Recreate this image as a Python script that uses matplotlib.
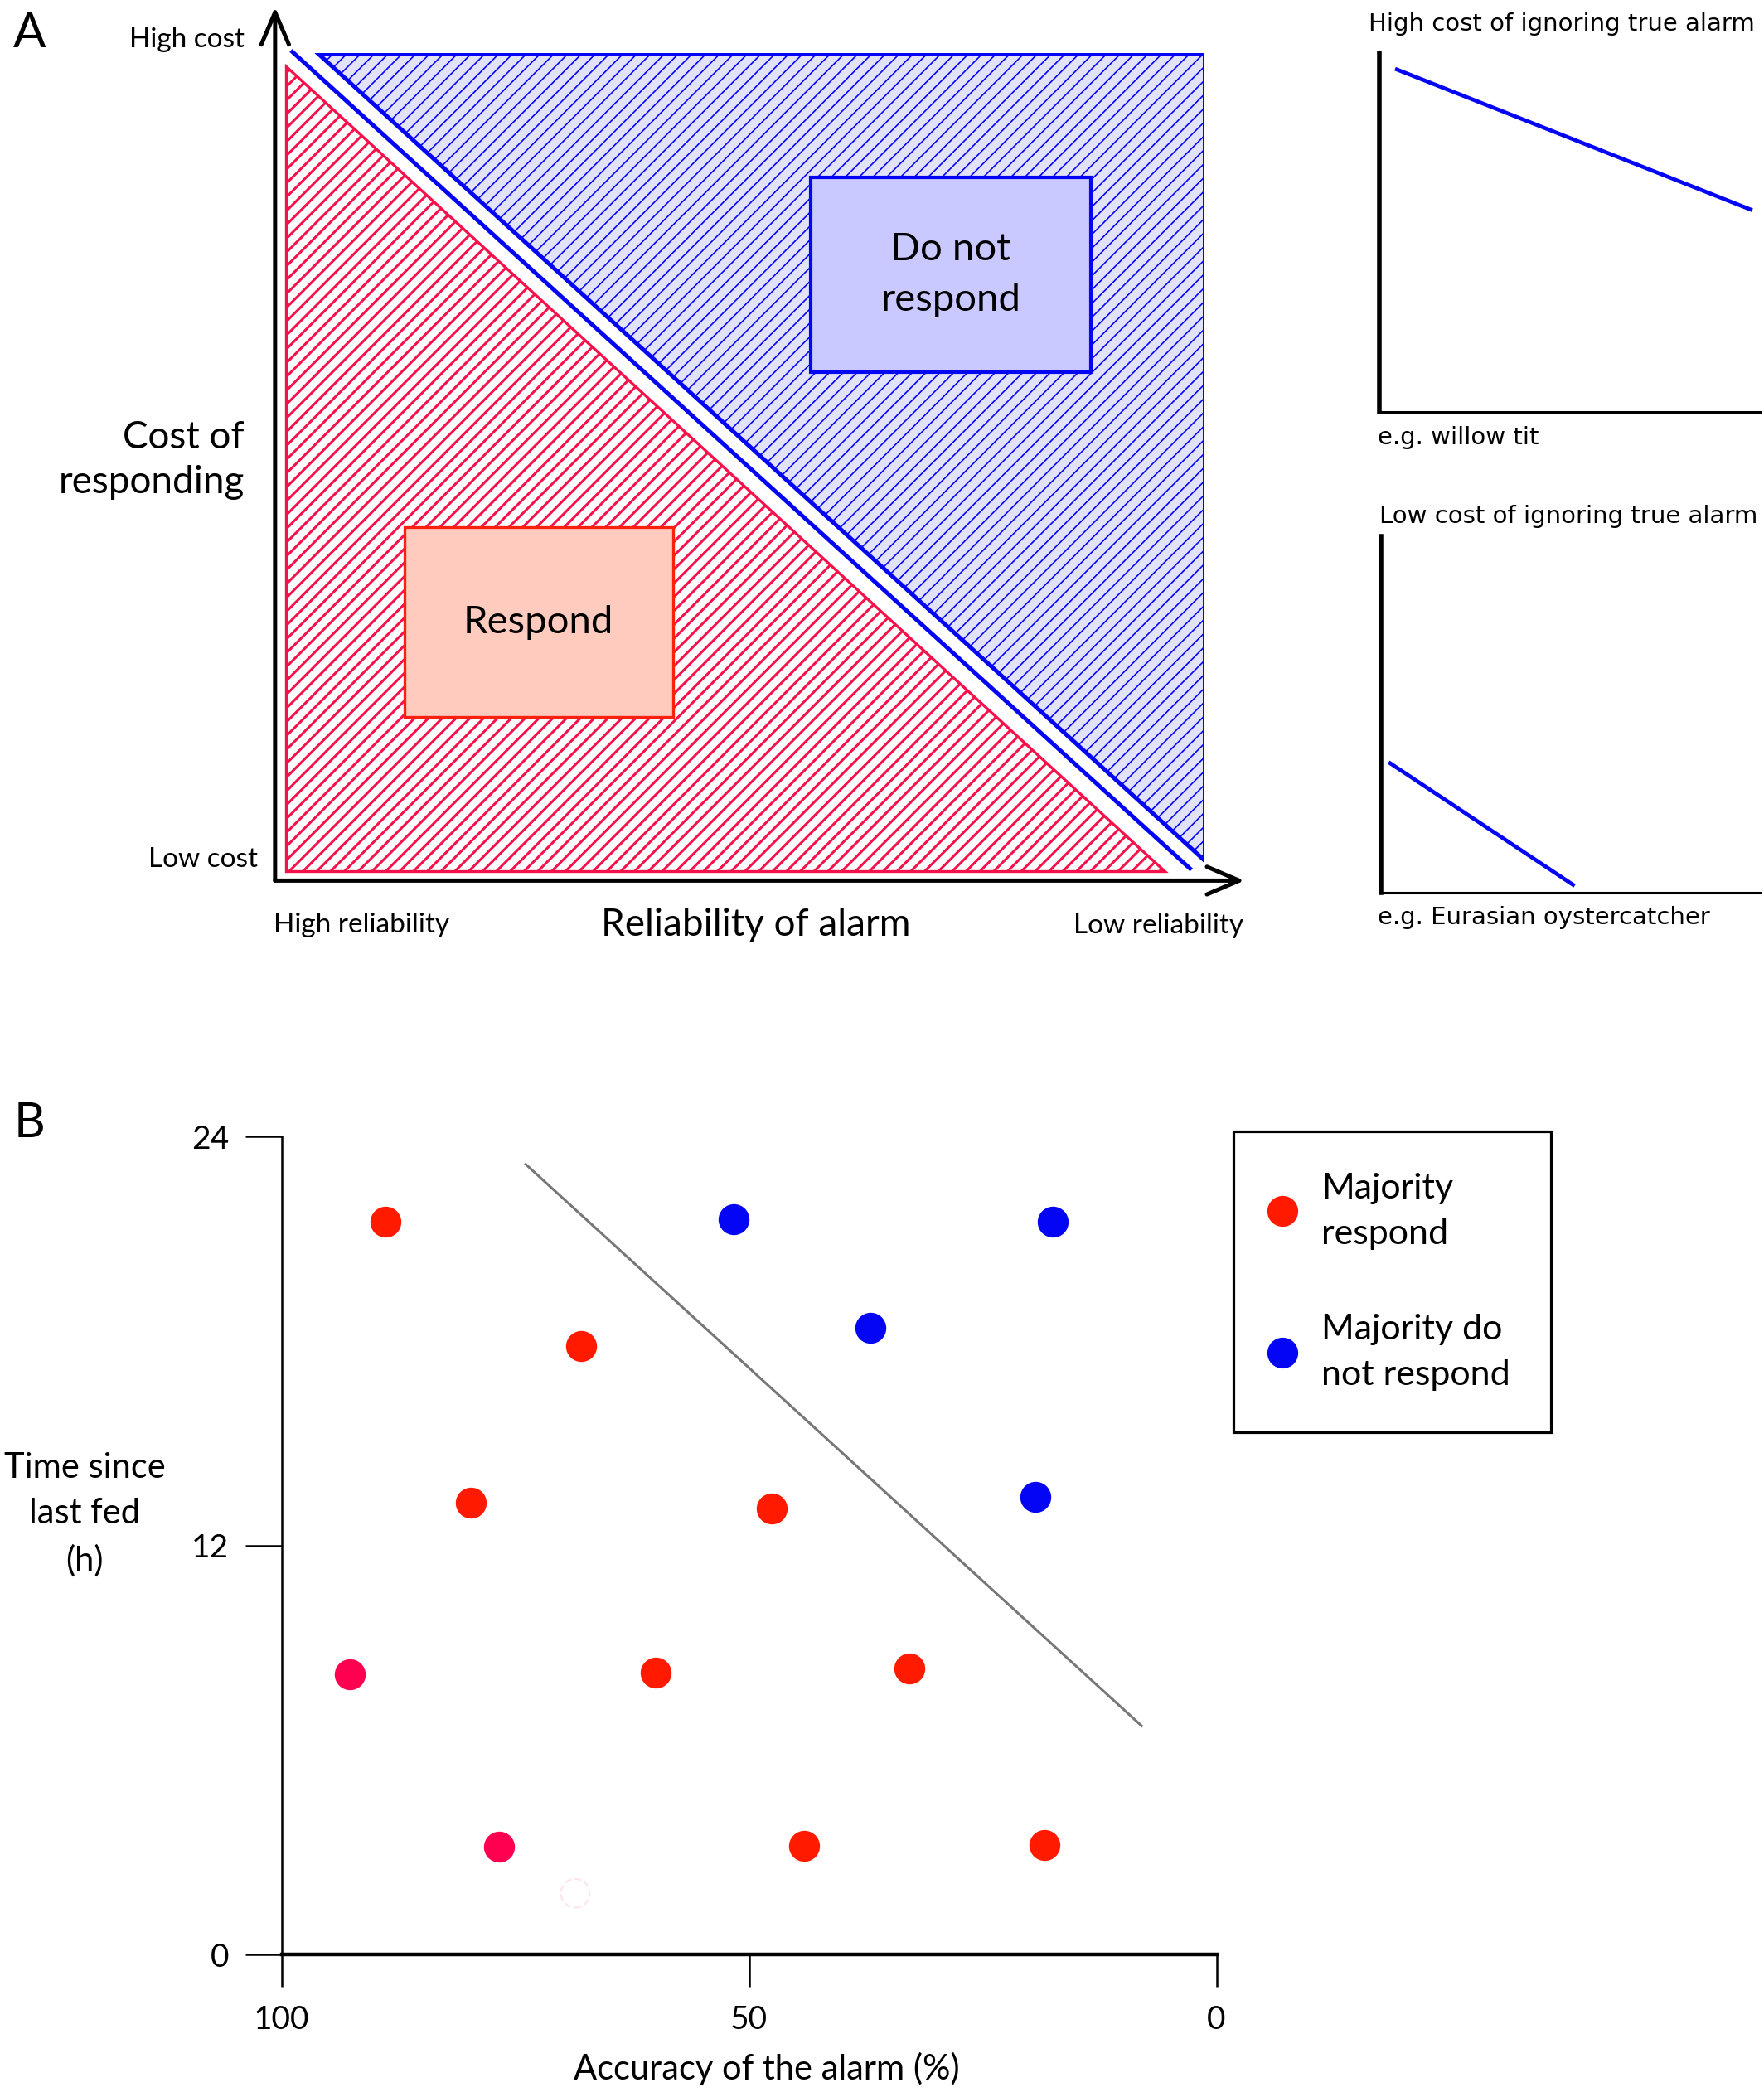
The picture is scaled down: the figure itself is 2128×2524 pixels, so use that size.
import matplotlib
matplotlib.use("Agg")
import matplotlib.pyplot as plt
from matplotlib.patches import Polygon, Rectangle
from matplotlib.lines import Line2D

plt.rcParams['font.family'] = ['Lato', 'DejaVu Sans']
plt.rcParams['hatch.linewidth'] = 0.9

# ---- panel A: conceptual regions (axes units: reliability 0..1, cost 0..1)
respond_x = [0.0115, 0.0115, 0.957]
respond_y = [0.984, 0.0113, 0.0113]
no_respond_x = [0.046, 1.0, 1.0]
no_respond_y = [1.0, 1.0, 0.024]
boundary_x = [0.017, 0.986]
boundary_y = [1.0035, 0.0129]
respond_box = [0.139, 0.198, 0.289, 0.229]      # x0, y0, w, h
no_respond_box = [0.576, 0.615, 0.302, 0.235]

# ---- panel A insets: cost of ignoring a true alarm
willow_x = [0.046, 0.975]
willow_y = [0.955, 0.565]
oyster_x = [0.025, 0.507]
oyster_y = [0.363, 0.022]

# ---- panel B: accuracy (%) vs time since last fed (h)
resp_acc = [88.9, 68.0, 79.8, 47.6, 60.0, 32.9, 44.1, 18.4]
resp_time = [21.5, 17.85, 13.26, 13.09, 8.28, 8.39, 3.18, 3.22]
pink_acc = [92.7, 76.8]
pink_time = [8.22, 3.16]
noresp_acc = [51.7, 17.5, 37.0, 19.35]
noresp_time = [21.58, 21.5, 18.39, 13.43]
ghost_acc = [68.6]
ghost_time = [1.8]
divider_acc = [73.9, 8.0]
divider_time = [23.19, 6.71]
x_ticks = [100, 50, 0]
y_ticks = [0, 12, 24]

RED = '#ff1a00'
PINK = '#ff0050'
BLUE = '#0505f5'
CRIMSON = '#f5124a'

W, H = 1321.0, 1568.0


def fx(x):
    return x / W


def fy(y):
    return 1 - y / H


fig = plt.figure(figsize=(10.64, 12.62), dpi=200)

# ================= panel A =================
ax_a = fig.add_axes([fx(206), fy(660), (902 - 206) / W, (660 - 40) / H])
ax_a.set_xlim(0, 1)
ax_a.set_ylim(0, 1)
ax_a.axis('off')

red_tri = Polygon(list(zip(respond_x, respond_y)), closed=True, facecolor='white',
                  edgecolor=CRIMSON, hatch='////', linewidth=1.2)
blue_tri = Polygon(list(zip(no_respond_x, no_respond_y)), closed=True, facecolor='#e2e2fb',
                   edgecolor=BLUE, hatch='////', linewidth=1.8)
for p, hw in [(red_tri, 1.1), (blue_tri, 0.6)]:
    try:
        p.set_hatch_linewidth(hw)
    except AttributeError:
        pass
    ax_a.add_patch(p)
ax_a.plot(boundary_x, boundary_y, color=BLUE, lw=1.8, solid_capstyle='butt', clip_on=False)

ax_a.add_patch(Rectangle(respond_box[:2], respond_box[2], respond_box[3],
                         facecolor='#ffcbbf', edgecolor='#ff2010', lw=1.2))
ax_a.text(respond_box[0] + respond_box[2] / 2, respond_box[1] + respond_box[3] / 2, 'Respond',
          ha='center', va='center', fontsize=17)
ax_a.add_patch(Rectangle(no_respond_box[:2], no_respond_box[2], no_respond_box[3],
                         facecolor='#c9c9ff', edgecolor=BLUE, lw=1.5))
ax_a.text(no_respond_box[0] + no_respond_box[2] / 2, no_respond_box[1] + no_respond_box[3] / 2,
          'Do not\nrespond', ha='center', va='center', fontsize=17, linespacing=1.55)

arrow = dict(arrowstyle='->, head_length=0.7, head_width=0.3', lw=1.8, color='black',
             mutation_scale=20, shrinkA=0, shrinkB=0)
ax_a.annotate('', xy=(1.043, -0.0), xytext=(0, 0), arrowprops=arrow, annotation_clip=False)
ax_a.annotate('', xy=(0, 1.056), xytext=(0, 0), arrowprops=arrow, annotation_clip=False)

fig.text(fx(22), fy(25), 'A', ha='center', va='center', fontsize=21)
fig.text(fx(183), fy(30), 'High cost', ha='right', va='center', fontsize=12)
fig.text(fx(193), fy(644), 'Low cost', ha='right', va='center', fontsize=12)
fig.text(fx(183), fy(345), 'Cost of\nresponding', ha='right', va='center',
         fontsize=16.5, linespacing=1.35)
fig.text(fx(205), fy(693), 'High reliability', ha='left', va='center', fontsize=12)
fig.text(fx(566), fy(693), 'Reliability of alarm', ha='center', va='center', fontsize=16.5)
fig.text(fx(931), fy(694), 'Low reliability', ha='right', va='center', fontsize=12)

# insets
inset_font = dict(family='DejaVu Sans', fontsize=10.5)
ax_hi = fig.add_axes([fx(1033), fy(309), (1318 - 1033) / W, (309 - 40) / H])
ax_lo = fig.add_axes([fx(1034), fy(669), (1318 - 1034) / W, (669 - 402) / H])
for ax, xs, ys in [(ax_hi, willow_x, willow_y), (ax_lo, oyster_x, oyster_y)]:
    ax.plot(xs, ys, color=BLUE, lw=1.7)
    ax.set_xlim(0, 1)
    ax.set_ylim(0, 1)
    ax.set_xticks([])
    ax.set_yticks([])
    ax.spines[['top', 'right']].set_visible(False)
    ax.spines['left'].set_linewidth(2.0)
    ax.spines['bottom'].set_linewidth(1.1)
fig.text(fx(1025), fy(18), 'High cost of ignoring true alarm', ha='left', va='center', **inset_font)
fig.text(fx(1032), fy(328), 'e.g. willow tit', ha='left', va='center', **inset_font)
fig.text(fx(1033), fy(387), 'Low cost of ignoring true alarm', ha='left', va='center', **inset_font)
fig.text(fx(1032), fy(688), 'e.g. Eurasian oystercatcher', ha='left', va='center', **inset_font)

# ================= panel B =================
ax_b = fig.add_axes([fx(211), fy(1465), (911 - 211) / W, (1465 - 852) / H])
ax_b.set_xlim(100, 0)
ax_b.set_ylim(0, 24)
ax_b.spines[['top', 'right']].set_visible(False)
ax_b.spines['left'].set_linewidth(0.9)
ax_b.spines['bottom'].set_linewidth(1.6)
ax_b.set_xticks(x_ticks)
ax_b.set_yticks(y_ticks)
ax_b.tick_params(axis='y', length=16, width=0.9, pad=7, labelsize=14)
ax_b.tick_params(axis='x', length=14, width=0.9, pad=8, labelsize=14)

ax_b.plot(divider_acc, divider_time, color='#777777', lw=1.1)
ax_b.scatter(resp_acc, resp_time, s=155, color=RED, zorder=3)
ax_b.scatter(pink_acc, pink_time, s=155, color=PINK, zorder=3)
ax_b.scatter(noresp_acc, noresp_time, s=155, color=BLUE, zorder=3)
ax_b.scatter(ghost_acc, ghost_time, s=155, facecolor='none', edgecolor='#fde6ec',
             linestyle='--', linewidth=0.8, zorder=2)

ax_b.set_ylabel('Time since\nlast fed\n(h)', rotation=0, ha='center', va='center',
                fontsize=15, linespacing=1.55)
ax_b.yaxis.set_label_coords(-0.211, 0.538)
ax_b.set_xlabel('Accuracy of the alarm (%)', fontsize=15, va='center')
ax_b.xaxis.set_label_coords(0.519, -0.140)

handles = [Line2D([], [], ls='none', marker='o', markersize=12.4, color=RED),
           Line2D([], [], ls='none', marker='o', markersize=12.4, color=BLUE)]
leg = ax_b.legend(handles, ['Majority\nrespond', 'Majority do\nnot respond'],
                  loc='upper left', bbox_to_anchor=(fx(924), fy(848)),
                  bbox_transform=fig.transFigure,
                  frameon=True, fancybox=False, edgecolor='black', framealpha=1,
                  borderpad=1.15, labelspacing=1.8, handlelength=0.4, handletextpad=0.9,
                  borderaxespad=0, prop={'size': 15.5})
leg.get_frame().set_linewidth(1.15)
for t in leg.get_texts():
    t.set_linespacing(1.55)

fig.text(fx(22), fy(842), 'B', ha='center', va='center', fontsize=21)

fig.savefig('out.png', dpi=200, facecolor='white')
